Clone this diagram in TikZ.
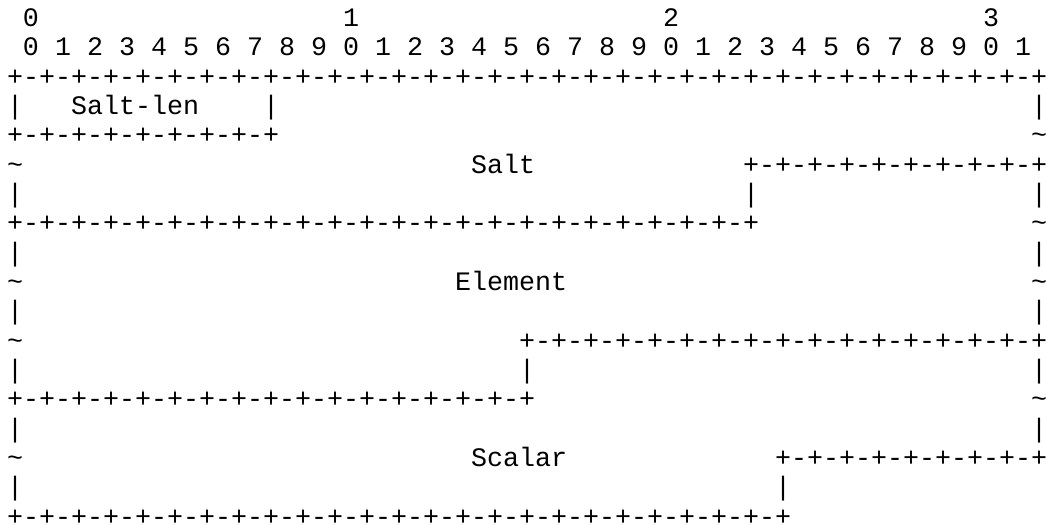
\documentclass[tikz,border=0pt]{standalone}
\usepackage{fontspec}
\setmonofont{Liberation Mono}
\ExplSyntaxOn
\cs_new:Npn \mybits #1 { \prg_replicate:nn {#1} {+-}+ }
\ExplSyntaxOff
\tikzset{asc/.style={anchor=base west, inner sep=0pt, outer sep=0pt,
  font=\fontsize{26.67pt}{29.33pt}\selectfont\ttfamily, text=black}}
\newcommand\putat[4]{\node[asc] (#1) at ({(7+16*#3)*1pt},{-(26.5+29.33*(#2-1))*1pt}) {#4};}
\newcommand\tl{\textasciitilde}
\begin{document}
\begin{tikzpicture}
\fill[white] (0,0) rectangle (1047pt,-526pt);
\useasboundingbox (0,0) rectangle (1047pt,-526pt);
% header
\putat{h0}{1}{1}{0}
\putat{h1}{1}{21}{1}
\putat{h2}{1}{41}{2}
\putat{h3}{1}{61}{3}
\putat{bits}{2}{1}{0 1 2 3 4 5 6 7 8 9 0 1 2 3 4 5 6 7 8 9 0 1 2 3 4 5 6 7 8 9 0 1}
% row 3
\putat{r3}{3}{0}{\mybits{32}}
% row 4
\putat{r4a}{4}{0}{|}
\putat{saltlen}{4}{4}{Salt-len}
\putat{r4b}{4}{16}{|}
\putat{r4c}{4}{64}{|}
% row 5
\putat{r5a}{5}{0}{\mybits{8}}
\putat{r5b}{5}{64}{\tl}
% row 6
\putat{r6a}{6}{0}{\tl}
\putat{salt}{6}{29}{Salt}
\putat{r6b}{6}{46}{\mybits{9}}
% row 7
\putat{r7a}{7}{0}{|}
\putat{r7b}{7}{46}{|}
\putat{r7c}{7}{64}{|}
% row 8
\putat{r8a}{8}{0}{\mybits{23}}
\putat{r8b}{8}{64}{\tl}
% row 9
\putat{r9a}{9}{0}{|}
\putat{r9b}{9}{64}{|}
% row 10
\putat{r10a}{10}{0}{\tl}
\putat{element}{10}{28}{Element}
\putat{r10b}{10}{64}{\tl}
% row 11
\putat{r11a}{11}{0}{|}
\putat{r11b}{11}{64}{|}
% row 12
\putat{r12a}{12}{0}{\tl}
\putat{r12b}{12}{32}{\mybits{16}}
% row 13
\putat{r13a}{13}{0}{|}
\putat{r13b}{13}{32}{|}
\putat{r13c}{13}{64}{|}
% row 14
\putat{r14a}{14}{0}{\mybits{16}}
\putat{r14b}{14}{64}{\tl}
% row 15
\putat{r15a}{15}{0}{|}
\putat{r15b}{15}{64}{|}
% row 16
\putat{r16a}{16}{0}{\tl}
\putat{scalar}{16}{29}{Scalar}
\putat{r16b}{16}{48}{\mybits{8}}
% row 17
\putat{r17a}{17}{0}{|}
\putat{r17b}{17}{48}{|}
% row 18
\putat{r18}{18}{0}{\mybits{24}}
\end{tikzpicture}
\end{document}
